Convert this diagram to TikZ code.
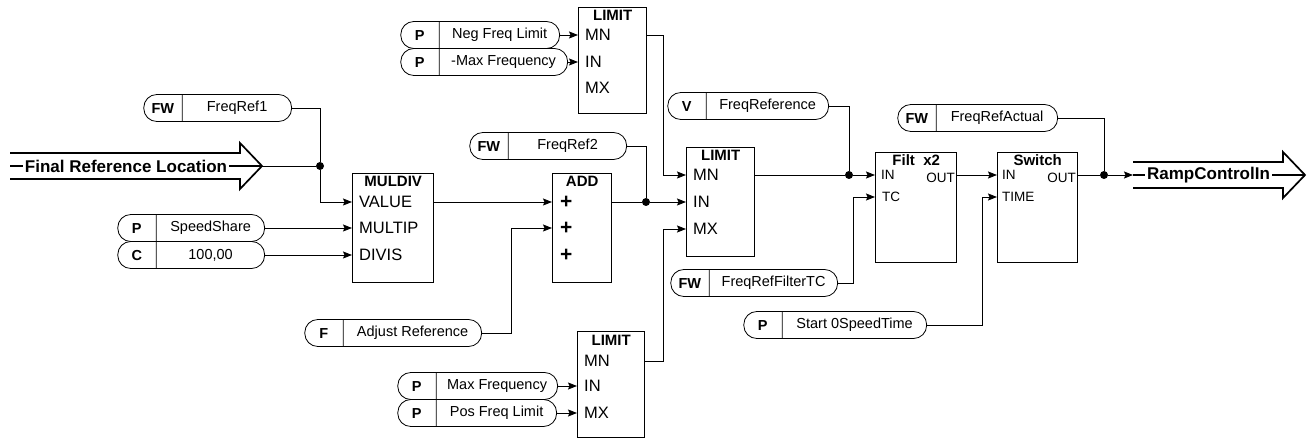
\documentclass[tikz,border=0pt]{standalone}
\usepackage{fontspec}
\setmainfont{Liberation Sans}
\usetikzlibrary{arrows.meta,shapes.multipart}

\newcommand{\tagtext}[3]{\makebox[38bp]{\bfseries\strut #1}\nodepart{two}\makebox[#2bp]{#3}}

\begin{document}
\begin{tikzpicture}[x=1bp,y=-1bp,
  tag/.style={rectangle split,rectangle split horizontal,rectangle split parts=2,
    draw,rounded corners=13bp,inner sep=0pt,anchor=east,line width=0.8bp,
    font=\fontsize{14.5bp}{27bp}\selectfont},
  block/.style={draw,line width=1.4bp,anchor=north west,inner sep=0pt},
  blocktitle/.style={anchor=base,inner sep=0pt,font=\bfseries\fontsize{15bp}{18bp}\selectfont},
  port/.style={anchor=west,inner sep=0pt,font=\fontsize{16.5bp}{20bp}\selectfont},
  smallport/.style={port,font=\fontsize{13.5bp}{16bp}\selectfont},
  plus/.style={port,font=\bfseries\fontsize{21bp}{24bp}\selectfont},
  bus/.style={line width=1.7bp},
  buslabel/.style={fill=white,inner xsep=2bp,inner ysep=1bp,font=\bfseries\fontsize{17bp}{20bp}\selectfont},
  wire/.style={line width=0.9bp},
  conn/.style={wire,-{Stealth[length=9bp,width=7bp,inset=1.5bp]}},
  junction/.style={fill,circle,inner sep=0pt,minimum size=8bp}]
  \useasboundingbox (0,0) rectangle (1316,439);

  \path
  node[block,minimum width=68bp,minimum height=106bp] (limA) at (578,7) {}
  node[block,minimum width=68bp,minimum height=109bp] (limB) at (686,147) {}
  node[block,minimum width=67bp,minimum height=106bp] (limC) at (577,331) {}
  node[block,minimum width=81bp,minimum height=109bp] (muldiv) at (352,173) {}
  node[block,minimum width=59bp,minimum height=109bp] (add) at (552,173) {}
  node[block,minimum width=81bp,minimum height=110bp] (filt) at (875,152) {}
  node[block,minimum width=80bp,minimum height=110bp] (sw) at (997,152) {}
  ;
  \path
  node[blocktitle] (limAt) at ([yshift=-14bp]limA.north) {LIMIT}
  node[blocktitle] (limBt) at ([yshift=-14bp]limB.north) {LIMIT}
  node[blocktitle] (limCt) at ([yshift=-14bp]limC.north) {LIMIT}
  node[blocktitle] (muldivt) at ([yshift=-14bp]muldiv.north) {MULDIV}
  node[blocktitle] (addt) at ([yshift=-14bp]add.north) {ADD}
  node[blocktitle] (filtt) at ([yshift=-14bp]filt.north) {Filt~~x2}
  node[blocktitle] (swt) at ([yshift=-14bp]sw.north) {Switch}
  ;
  \path
  node[port] (lamn) at (585,35) {MN}
  node[port] (lain) at (585,62) {IN}
  node[port] (lamx) at (585,88) {MX}
  node[port] (lbmn) at (693,175) {MN}
  node[port] (lbin) at (693,202) {IN}
  node[port] (lbmx) at (693,229) {MX}
  node[port] (lcmn) at (584,361) {MN}
  node[port] (lcin) at (584,386) {IN}
  node[port] (lcmx) at (584,413) {MX}
  node[port] (mdval) at (359,202) {VALUE}
  node[port] (mdmul) at (359,228) {MULTIP}
  node[port] (mddiv) at (359,255) {DIVIS}
  node[plus] (ad1) at (560,202) {+}
  node[plus] (ad2) at (560,228) {+}
  node[plus] (ad3) at (560,255) {+}
  node[smallport] (fin) at (881,175) {IN}
  node[smallport] (ftc) at (882,197) {TC}
  node[smallport,anchor=east] (fout) at (955,178) {OUT}
  node[smallport] (swin) at (1002,175) {IN}
  node[smallport] (swtime) at (1002,197) {TIME}
  node[smallport,anchor=east] (swout) at (1076,178) {OUT}
  ;
  \path
  node[tag] (fr1) at (292,108) {\tagtext{FW}{109}{FreqRef1}}
  node[tag] (ss) at (265,228) {\tagtext{P}{108}{SpeedShare}}
  node[tag] (c100) at (265,255) {\tagtext{C}{108}{100,00}}
  node[tag] (nfl) at (560,35) {\tagtext{P}{120}{Neg Freq Limit}}
  node[tag] (mmf) at (568,62) {\tagtext{P}{128}{-Max Frequency}}
  node[tag] (fr2) at (627,146) {\tagtext{FW}{118}{FreqRef2}}
  node[tag] (adj) at (482,333) {\tagtext{F}{138}{Adjust Reference}}
  node[tag] (fref) at (829,106) {\tagtext{V}{122}{FreqReference}}
  node[tag] (ftcp) at (838,283) {\tagtext{FW}{128}{FreqRefFilterTC}}
  node[tag] (fra) at (1058,118) {\tagtext{FW}{121}{FreqRefActual}}
  node[tag] (s0t) at (927,325) {\tagtext{P}{144}{Start 0SpeedTime}}
  node[tag] (mxf) at (558,386) {\tagtext{P}{121}{Max Frequency}}
  node[tag] (pfl) at (557,413) {\tagtext{P}{120}{Pos Freq Limit}}
  ;

  \coordinate (frltip) at (262,166);
  \coordinate (rcis) at (1133,175);
  \coordinate (rcitip) at (1305,175);
  \draw[bus] (10,153) -- (240,153) -- (240,143) -- (frltip) -- (240,189) -- (240,179) -- (10,179);
  \draw[wire,line width=1.2bp] (10,166) -- (frltip);
  \node[buslabel] (frl) at (126,166) {Final Reference Location};
  \draw[bus] (1133,162) -- (1283,162) -- (1283,152) -- (rcitip) -- (1283,198) -- (1283,188) -- (1133,188);
  \draw[wire,line width=1.2bp] (rcis) -- (rcitip);
  \node[buslabel] (rci) at (1208.5,175) {RampControlIn};

  \path
  node[junction] (j1) at (320,166) {}
  node[junction] (j2) at (646,202) {}
  node[junction] (j3) at (849,175) {}
  node[junction] (j4) at (1104,175) {}
  ;

  \draw[wire] (fr1.east) -| (j1);
  \draw[wire] (frltip) -- (j1);
  \draw[conn] (j1) |- (muldiv.west |- mdval);
  \draw[conn] (ss.east) -- (ss.east -| muldiv.west);
  \draw[conn] (c100.east) -- (c100.east -| muldiv.west);
  \draw[conn] (muldiv.east |- mdval) -- (add.west |- ad1);
  \draw[conn] (adj.east) -- ++(29,0) |- (add.west |- ad2);
  \draw[wire] (add.east |- ad1) -- (j2);
  \draw[wire] (fr2.east) -| (j2);
  \draw[conn] (j2) -- (limB.west |- lbin);
  \draw[conn] (nfl.east) -- (nfl.east -| limA.west);
  \draw[conn] (mmf.east) -- (mmf.east -| limA.west);
  \draw[conn] (limA.east |- lamn) -- ++(16,0) |- (limB.west |- lbmn);
  \draw[conn] (limC.east |- lcmn) -- ++(18,0) |- (limB.west |- lbmx);
  \draw[conn] (mxf.east) -- (mxf.east -| limC.west);
  \draw[conn] (pfl.east) -- (pfl.east -| limC.west);
  \draw[wire] (limB.east |- lbmn) -- (j3);
  \draw[wire] (fref.east) -| (j3);
  \draw[conn] (j3) -- (filt.west |- fin);
  \draw[conn] (ftcp.east) -- ++(15,0) |- (filt.west |- ftc);
  \draw[conn] (filt.east |- fin) -- (sw.west |- swin);
  \draw[conn] (s0t.east) -- ++(55,0) |- (sw.west |- swtime);
  \draw[wire] (sw.east |- swin) -- (j4);
  \draw[wire] (fra.east) -| (j4);
  \draw[conn] (j4) -- (rcis);
\end{tikzpicture}
\end{document}
